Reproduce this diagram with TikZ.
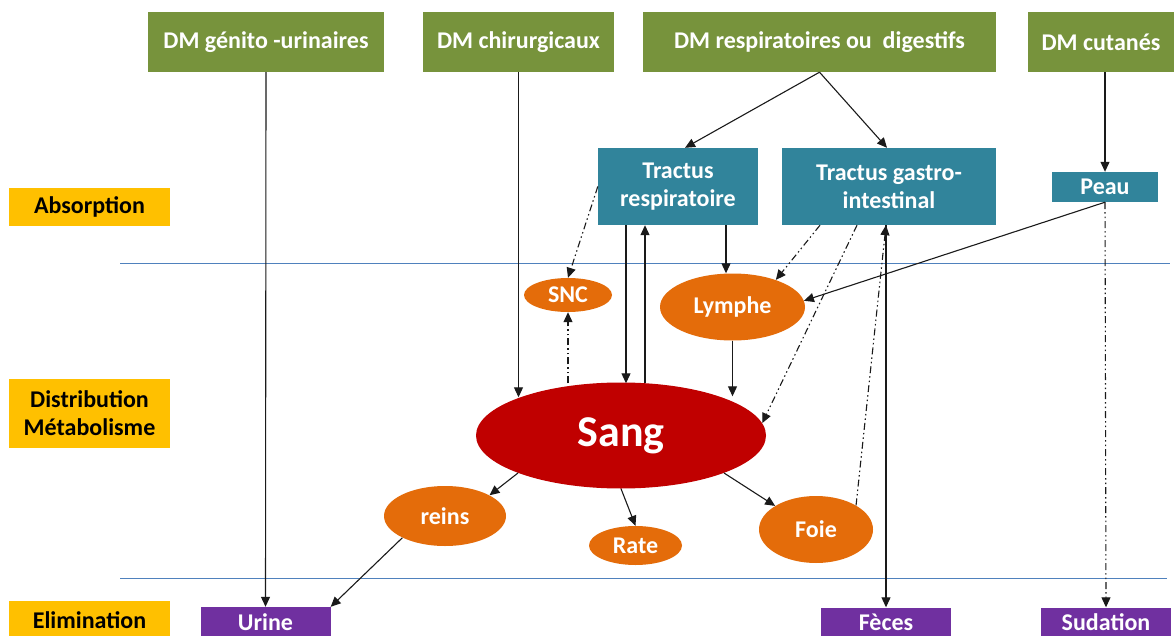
\documentclass[tikz,border=0pt]{standalone}
\usepackage{fontspec}
\setmainfont{Carlito}
\usetikzlibrary{shapes.geometric,arrows.meta,calc}
\definecolor{dmgreen}{HTML}{77933C}
\definecolor{tealb}{HTML}{31849B}
\definecolor{orng}{HTML}{E46C0A}
\definecolor{sangred}{HTML}{C00000}
\definecolor{purp}{HTML}{7030A0}
\definecolor{yel}{HTML}{FFC000}
\definecolor{sepblue}{HTML}{4F81BD}
\definecolor{linec}{HTML}{1A1A1A}
\tikzset{
  txt/.style={font=\bfseries\fontsize{24}{28}\selectfont},
  greenbox/.style={txt,rectangle,fill=dmgreen,text=white,minimum height=60pt,inner sep=0pt},
  tealbox/.style={txt,rectangle,fill=tealb,text=white,align=center,inner sep=0pt},
  orell/.style={txt,ellipse,fill=orng,text=white,inner sep=0pt},
  purpbox/.style={txt,rectangle,fill=purp,text=white,minimum height=30pt,inner sep=0pt},
  yelbox/.style={txt,rectangle,fill=yel,text=black,align=center,minimum width=161pt,inner sep=0pt},
  arr/.style={draw=linec,line width=1.1pt,-{Triangle[length=10pt,width=9pt]}},
  dd/.style={dash pattern=on 7pt off 3pt on 1.5pt off 3pt on 1.5pt off 3pt},
  sepline/.style={draw=sepblue,line width=1pt}
}
\begin{document}
\begin{tikzpicture}[x=1pt,y=-1pt]
\useasboundingbox (0,0) rectangle (1174,636);
\fill[white] (0,0) rectangle (1174,636);
% separators
\draw[sepline] (120,263) -- (1170,263);
\draw[sepline] (120,578) -- (1167,578);
% phase labels
\node[yelbox,minimum height=38pt] (abs) at (89.5,207) {Absorption};
\node[yelbox,minimum height=69pt] (dist) at (89.5,413.5) {Distribution\\Métabolisme};
\node[yelbox,minimum height=39pt] (elim) at (89.5,620.5) {Elimination};
% top boxes
\node[greenbox,minimum width=236pt] (g1) at (266,42) {DM génito -urinaires};
\node[greenbox,minimum width=191pt] (g2) at (518.5,42) {DM chirurgicaux};
\node[greenbox,minimum width=353pt] (g3) at (819.5,42) {DM respiratoires ou\ \ digestifs};
\node[greenbox,minimum width=147pt] (g4) at (1101,42) {DM cutanés};
% absorption boxes
\node[tealbox,minimum width=160pt,minimum height=77pt] (tr) at (678,186.5) {Tractus\\respiratoire};
\node[tealbox,minimum width=214pt,minimum height=77pt] (tg) at (889,186.5) {Tractus gastro-\\intestinal};
\node[tealbox,minimum width=106pt,minimum height=30pt] (peau) at (1105,187) {Peau};
% ellipses
\node[orell,minimum width=88pt,minimum height=34pt] (snc) at (568,295) {SNC};
\node[orell,minimum width=145pt,minimum height=67pt] (lymphe) at (732.5,307) {Lymphe};
\node[ellipse,fill=sangred,text=white,font=\bfseries\fontsize{44}{50}\selectfont,inner sep=0pt,minimum width=290pt,minimum height=106pt] (sang) at (621,435.5) {Sang};
\node[orell,minimum width=122pt,minimum height=60pt] (reins) at (445,516) {reins};
\node[orell,minimum width=93pt,minimum height=39pt] (rate) at (635.5,545.5) {Rate};
\node[orell,minimum width=114pt,minimum height=67pt] (foie) at (816,529.5) {Foie};
% elimination boxes
\node[purpbox,minimum width=130pt] (urine) at (265.5,622) {Urine};
\node[purpbox,minimum width=130pt] (feces) at (886,622.5) {Fèces};
\node[purpbox,minimum width=130pt] (sudation) at (1106,622.5) {Sudation};
% connectors
\draw[arr] (g1.south) -- (urine.north);
\draw[arr] (g2.south) -- ($(g2.south |- sang.north)+(0,15)$);
\draw[arr] (g3.south) -- ([xshift=7pt]tr.north);
\draw[arr] (g3.south) -- ([xshift=-2pt]tg.north);
\draw[arr] (peau.north |- g4.south) -- (peau.north);
\draw[arr] ([xshift=-52pt]tr.south) -- ($([xshift=-52pt]tr.south |- sang.north)+(0,1)$);
\draw[arr] ($([xshift=-33pt]tr.south |- sang.north)+(0,1)$) -- ([xshift=-33pt]tr.south);
\draw[arr] ([xshift=48pt]tr.south) -- ([xshift=48pt]tr.south |- lymphe.north);
\draw[arr,dd] (tr.west) -- (snc.north);
\draw[arr,dd] ($(snc.south |- sang.north)+(0,1)$) -- (snc.south);
\draw[arr] (lymphe.south) -- ($(lymphe.south |- sang.north)+(0,14)$);
\draw[arr,dd] ([xshift=-69pt]tg.south) -- (lymphe.32);
\draw[arr,dd] ([xshift=-32pt]tg.south) -- (sang.5);
\draw[arr] (peau.south) -- (lymphe.5);
\draw[arr,dd] (peau.south) -- (sudation.north);
\draw[arr] (feces.north |- tg.south) -- (feces.north);
\draw[arr,dd] (foie.31) -- (feces.north |- tg.south);
\draw[arr] (sang.200) -- (reins.25);
\draw[arr] (sang.south) -- (rate.north);
\draw[arr] (sang.340) -- (foie.150);
\draw[arr] (reins.207) -- (urine.north east);
\end{tikzpicture}
\end{document}
